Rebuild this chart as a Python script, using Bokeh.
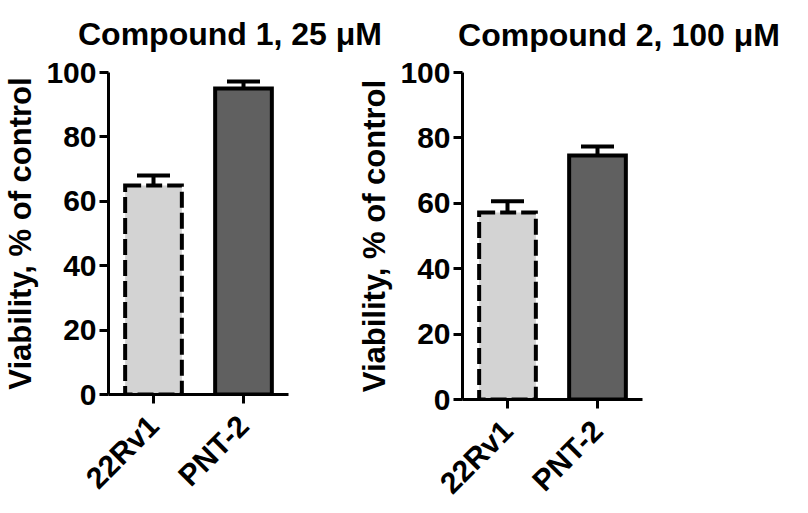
import math
from bokeh.plotting import figure
from bokeh.models import (ColumnDataSource, FactorRange, Range1d, FixedTicker,
                          Whisker, TeeHead, Label)
from bokeh.layouts import row, column
from bokeh.embed import file_html
from bokeh.resources import INLINE

# ---- data ----
cell_lines = ["22Rv1", "PNT-2"]
compound1_viability = [64.9, 95.0]
compound1_error = [3.1, 2.2]
compound2_viability = [57.2, 74.6]
compound2_error = [3.4, 2.8]
panel_titles = ["Compound 1, 25 μM", "Compound 2, 100 μM"]
y_ticks = [0, 20, 40, 60, 80, 100]
y_label = "Viability, % of control"

# ---- style ----
FONT = "Liberation Sans"
fills = ["#d3d3d3", "#606060"]
dashes = ["16 5", "solid"]


def make_panel(values, errors, mb_left, mb_right, mb_top, mb_bottom, frame_h):
    p = figure(x_range=FactorRange(*cell_lines), y_range=Range1d(0, 100),
               frame_width=180, frame_height=frame_h,
               min_border_left=mb_left, min_border_right=mb_right,
               min_border_top=mb_top, min_border_bottom=mb_bottom,
               output_backend="svg", toolbar_location=None)
    p.outline_line_color = None
    p.xgrid.grid_line_color = None
    p.ygrid.grid_line_color = None
    p.background_fill_color = "white"
    p.border_fill_color = "white"

    for i, cl in enumerate(cell_lines):
        src = ColumnDataSource(dict(x=[cl], top=[values[i]]))
        p.vbar(x="x", top="top", bottom=0, width=0.63, source=src,
               fill_color=fills[i], line_color="black", line_width=4,
               line_dash=dashes[i], line_join="miter")

    esrc = ColumnDataSource(dict(x=cell_lines, lower=values,
                                 upper=[v + e for v, e in zip(values, errors)]))
    w = Whisker(base="x", lower="lower", upper="upper", source=esrc,
                line_color="black", line_width=4,
                upper_head=TeeHead(size=33, line_width=4, line_color="black"),
                lower_head=None)
    p.add_layout(w)

    for ax in (p.xaxis[0], p.yaxis[0]):
        ax.axis_line_width = 3
        ax.axis_line_color = "black"
        ax.major_tick_line_width = 3
        ax.major_tick_line_color = "black"
        ax.major_tick_in = 0
        ax.minor_tick_line_color = None
        ax.major_label_text_font = FONT
        ax.major_label_text_font_size = "30px"
        ax.major_label_text_font_style = "bold"
        ax.major_label_text_color = "black"

    p.yaxis.ticker = FixedTicker(ticks=y_ticks)
    p.yaxis.major_tick_out = 9
    p.yaxis.major_label_standoff = 3
    p.xaxis.major_tick_out = 9
    p.xaxis.major_label_orientation = math.pi / 4
    p.xaxis.major_label_standoff = 17

    p.yaxis.axis_label = y_label
    p.yaxis.axis_label_text_font = FONT
    p.yaxis.axis_label_text_font_size = "31px"
    p.yaxis.axis_label_text_font_style = "bold"
    p.yaxis.axis_label_text_color = "black"
    p.yaxis.axis_label_standoff = 5
    return p


# ---- title strip (both panel titles) ----
TOP_W, TOP_H = 792, 52
top = figure(width=TOP_W, height=TOP_H, x_range=Range1d(0, TOP_W),
             y_range=Range1d(0, TOP_H), min_border=0,
             x_axis_location=None, y_axis_location=None,
             output_backend="svg", toolbar_location=None)
top.outline_line_color = None
top.grid.visible = False
top.border_fill_color = "white"
top.background_fill_color = "white"
title_x = [229.5, 618.5]
title_y = [19, 18]
for t, tx, ty in zip(panel_titles, title_x, title_y):
    top.add_layout(Label(x=tx, y=ty, text=t, text_align="center",
                         text_baseline="alphabetic", text_font=FONT,
                         text_font_size="32px", text_font_style="bold",
                         text_color="black"))

p1 = make_panel(compound1_viability, compound1_error, 105, 37, 20, 103, 322)
p2 = make_panel(compound2_viability, compound2_error, 137, 153, 16, 102, 327)

layout = column(top, row(p1, p2))
open("out.html", "w").write(file_html(layout, INLINE))
